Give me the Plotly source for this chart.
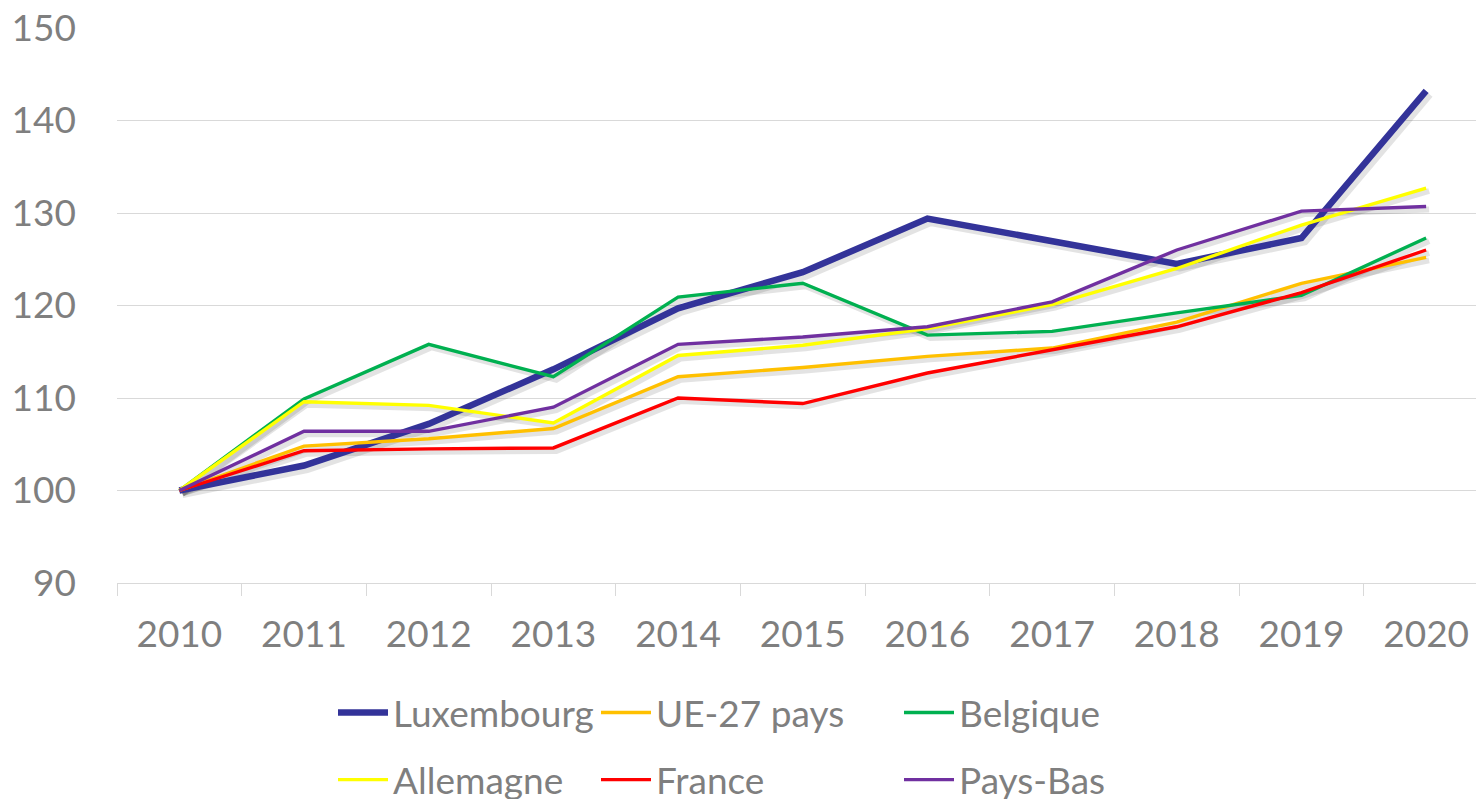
import plotly.graph_objects as go

years = ["2010", "2011", "2012", "2013", "2014", "2015", "2016", "2017", "2018", "2019", "2020"]

luxembourg = [100, 102.7, 107.2, 113.1, 119.7, 123.6, 129.4, 127.0, 124.5, 127.3, 143.2]
ue27 = [100, 104.8, 105.6, 106.7, 112.3, 113.3, 114.5, 115.4, 118.2, 122.4, 125.2]
belgique = [100, 109.9, 115.8, 112.3, 120.9, 122.4, 116.8, 117.2, 119.2, 121.1, 127.3]
allemagne = [100, 109.6, 109.2, 107.3, 114.6, 115.7, 117.5, 120.1, 124.0, 128.7, 132.7]
france = [100, 104.3, 104.5, 104.6, 110.0, 109.4, 112.7, 115.2, 117.7, 121.4, 126.0]
paysbas = [100, 106.4, 106.4, 109.0, 115.8, 116.6, 117.7, 120.4, 126.0, 130.2, 130.7]

series = [
    ("Luxembourg", luxembourg, "#333399", 6.5, "legend"),
    ("UE-27 pays", ue27, "#FFC000", 3.4, "legend2"),
    ("Belgique", belgique, "#00B050", 3.4, "legend3"),
    ("Allemagne", allemagne, "#FFFF00", 3.4, "legend"),
    ("France", france, "#FF0000", 3.4, "legend2"),
    ("Pays-Bas", paysbas, "#7030A0", 3.4, "legend3"),
]

FONT = "Lato"
GREY = "#7F7F7F"
LINE = "#D9D9D9"

XR = [-0.5, 10.4]
YR = [90, 150]
# shadow offset (in px) converted to axis units
PLOT_W = 1476 - 117
PLOT_H = 583 - 28
SX = 3 * (XR[1] - XR[0]) / PLOT_W
SY = 3 * (YR[1] - YR[0]) / PLOT_H

fig = go.Figure()

# invisible trace on base axes so the category axis has its categories
fig.add_trace(go.Scatter(x=years, y=luxembourg, mode="lines", line=dict(width=0),
                         opacity=0, showlegend=False, hoverinfo="skip", xaxis="x", yaxis="y"))

# soft shadows (drawn on a shifted, hidden overlay axis pair)
for name, vals, color, w, lg in series:
    fig.add_trace(go.Scatter(
        x=years, y=vals, mode="lines", showlegend=False, hoverinfo="skip",
        line=dict(color="rgba(0,0,0,0.11)", width=w + 2.5),
        xaxis="x2", yaxis="y2",
    ))

for name, vals, color, w, lg in series:
    fig.add_trace(go.Scatter(
        x=years, y=vals, name=name, mode="lines",
        line=dict(color=color, width=w),
        legend=lg, legendgroup=name,
        xaxis="x3", yaxis="y3",
    ))

legend_common = dict(
    orientation="v", xanchor="left", yanchor="top", yref="container",
    font=dict(family=FONT, size=37, color=GREY),
    bgcolor="rgba(0,0,0,0)", traceorder="grouped", tracegroupgap=16,
    itemwidth=50,
)

LY = 1 - 682 / 799

fig.update_layout(
    width=1476, height=799,
    margin=dict(l=117, r=0, t=28, b=216, autoexpand=False),
    paper_bgcolor="white", plot_bgcolor="white",
    font=dict(family=FONT, color=GREY),
    showlegend=True,
    legend=dict(x=(333 - 117) / PLOT_W, y=LY, **legend_common),
    legend2=dict(x=(596 - 117) / PLOT_W, y=LY, **legend_common),
    legend3=dict(x=(899 - 117) / PLOT_W, y=LY, **legend_common),
    xaxis=dict(
        type="category", range=XR,
        showgrid=False, showline=True, linecolor=LINE, linewidth=1.3,
        ticks="outside", tickson="boundaries", ticklen=12, tickcolor=LINE, tickwidth=1.3,
        tickfont=dict(family=FONT, size=37, color=GREY),
        ticklabelstandoff=18,
    ),
    yaxis=dict(
        range=YR, dtick=10, tick0=90,
        showgrid=True, gridcolor=LINE, gridwidth=1.3,
        zeroline=False, showline=False, ticks="",
        tickfont=dict(family=FONT, size=37, color=GREY),
        ticklabelstandoff=40,
    ),
    xaxis2=dict(type="category", range=[XR[0] - SX, XR[1] - SX], overlaying="x", visible=False),
    yaxis2=dict(range=[YR[0] + SY, YR[1] + SY], overlaying="y", visible=False),
    xaxis3=dict(type="category", range=XR, overlaying="x", visible=False),
    yaxis3=dict(range=YR, overlaying="y", visible=False),
)

fig.write_html("out.html", config={"displayModeBar": False},
               post_script="document.body.style.margin='0';")
